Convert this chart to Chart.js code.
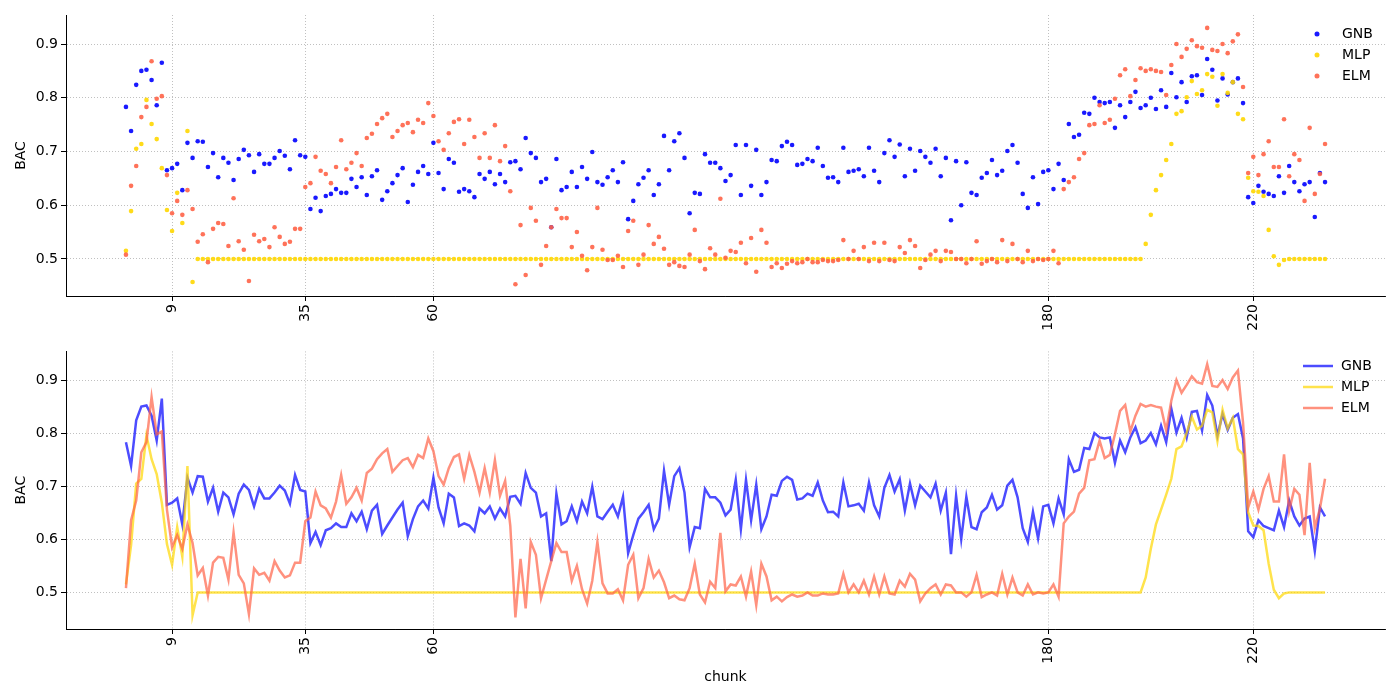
<!DOCTYPE html>
<html>
<head>
<meta charset="utf-8">
<title>BAC per chunk</title>
<script src="https://cdn.jsdelivr.net/npm/chart.js@4.4.0/dist/chart.umd.min.js"></script>
<style>
  body { margin: 0; background: #fff; }
  #wrap { position: relative; width: 1400px; height: 700px; }
  canvas { position: absolute; left: 0; }
  #scatterChart { top: 0; }
  #lineChart { top: 340px; }
</style>
</head>
<body>
<div id="wrap">
  <canvas id="scatterChart" width="1400" height="340"></canvas>
  <canvas id="lineChart" width="1400" height="360"></canvas>
</div>
<script>
// -------- DATA -------- //

let gnb = [
    0.783, 0.738, 0.824, 0.850, 0.852, 0.833, 0.786, 0.865, 0.665, 0.669,
    0.677, 0.628, 0.716, 0.688, 0.719, 0.718, 0.671, 0.697, 0.652, 0.688,
    0.679, 0.647, 0.686, 0.703, 0.693, 0.662, 0.695, 0.677, 0.677, 0.688,
    0.701, 0.692, 0.667, 0.721, 0.693, 0.690, 0.593, 0.614, 0.589, 0.617,
    0.621, 0.630, 0.623, 0.623, 0.649, 0.634, 0.652, 0.619, 0.654, 0.665,
    0.610, 0.626, 0.641, 0.656, 0.669, 0.606, 0.638, 0.662, 0.673, 0.658,
    0.716, 0.660, 0.630, 0.686, 0.679, 0.625, 0.630, 0.626, 0.615, 0.658,
    0.649, 0.662, 0.639, 0.658, 0.643, 0.680, 0.682, 0.667, 0.725, 0.697,
    0.688, 0.643, 0.649, 0.559, 0.686, 0.628, 0.634, 0.662, 0.634, 0.671,
    0.649, 0.699, 0.643, 0.638, 0.652, 0.665, 0.643, 0.680, 0.574, 0.608,
    0.639, 0.651, 0.665, 0.619, 0.639, 0.729, 0.665, 0.719, 0.734, 0.688,
    0.585, 0.623, 0.621, 0.695, 0.679, 0.679, 0.669, 0.645, 0.656, 0.712,
    0.619, 0.712, 0.636, 0.703, 0.619, 0.643, 0.684, 0.682, 0.710, 0.718,
    0.712, 0.675, 0.677, 0.686, 0.682, 0.707, 0.673, 0.651, 0.652, 0.643,
    0.707, 0.662, 0.664, 0.667, 0.654, 0.707, 0.664, 0.643, 0.697, 0.721,
    0.690, 0.713, 0.654, 0.705, 0.664, 0.701, 0.690, 0.679, 0.705, 0.654,
    0.688, 0.572, 0.682, 0.600, 0.680, 0.623, 0.619, 0.651, 0.660, 0.684,
    0.656, 0.664, 0.701, 0.712, 0.679, 0.621, 0.595, 0.652, 0.602, 0.662,
    0.665, 0.630, 0.677, 0.647, 0.751, 0.727, 0.731, 0.772, 0.770, 0.800,
    0.792, 0.790, 0.792, 0.744, 0.786, 0.764, 0.792, 0.811, 0.781, 0.786,
    0.800, 0.779, 0.814, 0.783, 0.846, 0.801, 0.829, 0.792, 0.840, 0.842,
    0.805, 0.872, 0.852, 0.795, 0.836, 0.806, 0.829, 0.836, 0.790, 0.615,
    0.604, 0.636, 0.625, 0.621, 0.617, 0.654, 0.623, 0.673, 0.643, 0.626,
    0.639, 0.643, 0.578, 0.660, 0.643
];

let mlp = [
    0.515, 0.589, 0.705, 0.714, 0.796, 0.751, 0.723, 0.669, 0.591, 0.552,
    0.623, 0.567, 0.738, 0.457, 0.5, 0.5, 0.5, 0.5, 0.5, 0.5,
    0.5, 0.5, 0.5, 0.5, 0.5, 0.5, 0.5, 0.5, 0.5, 0.5,
    0.5, 0.5, 0.5, 0.5, 0.5, 0.5, 0.5, 0.5, 0.5, 0.5,
    0.5, 0.5, 0.5, 0.5, 0.5, 0.5, 0.5, 0.5, 0.5, 0.5,
    0.5, 0.5, 0.5, 0.5, 0.5, 0.5, 0.5, 0.5, 0.5, 0.5,
    0.5, 0.5, 0.5, 0.5, 0.5, 0.5, 0.5, 0.5, 0.5, 0.5,
    0.5, 0.5, 0.5, 0.5, 0.5, 0.5, 0.5, 0.5, 0.5, 0.5,
    0.5, 0.5, 0.5, 0.5, 0.5, 0.5, 0.5, 0.5, 0.5, 0.5,
    0.5, 0.5, 0.5, 0.5, 0.5, 0.5, 0.5, 0.5, 0.5, 0.5,
    0.5, 0.5, 0.5, 0.5, 0.5, 0.5, 0.5, 0.5, 0.5, 0.5,
    0.5, 0.5, 0.5, 0.5, 0.5, 0.5, 0.5, 0.5, 0.5, 0.5,
    0.5, 0.5, 0.5, 0.5, 0.5, 0.5, 0.5, 0.5, 0.5, 0.5,
    0.5, 0.5, 0.5, 0.5, 0.5, 0.5, 0.5, 0.5, 0.5, 0.5,
    0.5, 0.5, 0.5, 0.5, 0.5, 0.5, 0.5, 0.5, 0.5, 0.5,
    0.5, 0.5, 0.5, 0.5, 0.5, 0.5, 0.5, 0.5, 0.5, 0.5,
    0.5, 0.5, 0.5, 0.5, 0.5, 0.5, 0.5, 0.5, 0.5, 0.5,
    0.5, 0.5, 0.5, 0.5, 0.5, 0.5, 0.5, 0.5, 0.5, 0.5,
    0.5, 0.5, 0.5, 0.5, 0.5, 0.5, 0.5, 0.5, 0.5, 0.5,
    0.5, 0.5, 0.5, 0.5, 0.5, 0.5, 0.5, 0.5, 0.5, 0.528,
    0.582, 0.628, 0.656, 0.684, 0.714, 0.770, 0.775, 0.801, 0.831, 0.807,
    0.814, 0.844, 0.839, 0.785, 0.844, 0.809, 0.829, 0.770, 0.760, 0.651,
    0.626, 0.625, 0.617, 0.554, 0.505, 0.489, 0.498, 0.5, 0.5, 0.5,
    0.5, 0.5, 0.5, 0.5, 0.5
];

let elm = [
    0.508, 0.636, 0.673, 0.764, 0.783, 0.868, 0.798, 0.803, 0.656, 0.585,
    0.608, 0.582, 0.628, 0.593, 0.532, 0.546, 0.494, 0.556, 0.567, 0.565,
    0.524, 0.613, 0.533, 0.517, 0.459, 0.545, 0.533, 0.537, 0.522, 0.559,
    0.541, 0.528, 0.532, 0.556, 0.556, 0.634, 0.641, 0.690, 0.664, 0.658,
    0.641, 0.671, 0.721, 0.667, 0.679, 0.697, 0.673, 0.725, 0.733, 0.751,
    0.762, 0.770, 0.727, 0.738, 0.749, 0.753, 0.736, 0.759, 0.753, 0.790,
    0.766, 0.719, 0.703, 0.734, 0.755, 0.760, 0.714, 0.759, 0.727, 0.688,
    0.734, 0.688, 0.749, 0.682, 0.710, 0.626, 0.453, 0.563, 0.470, 0.595,
    0.571, 0.489, 0.524, 0.559, 0.593, 0.576, 0.576, 0.522, 0.550, 0.506,
    0.479, 0.522, 0.595, 0.517, 0.498, 0.498, 0.506, 0.485, 0.552, 0.571,
    0.489, 0.508, 0.563, 0.528, 0.541, 0.519, 0.489, 0.494, 0.487, 0.485,
    0.508, 0.554, 0.496, 0.481, 0.520, 0.508, 0.612, 0.502, 0.515, 0.513,
    0.530, 0.492, 0.539, 0.476, 0.554, 0.530, 0.485, 0.492, 0.483, 0.491,
    0.496, 0.492, 0.494, 0.500, 0.494, 0.494, 0.498, 0.496, 0.496, 0.498,
    0.535, 0.500, 0.515, 0.500, 0.522, 0.496, 0.530, 0.496, 0.530, 0.498,
    0.496, 0.522, 0.511, 0.535, 0.524, 0.483, 0.498, 0.508, 0.515, 0.496,
    0.515, 0.513, 0.500, 0.500, 0.492, 0.500, 0.533, 0.491, 0.496, 0.500,
    0.494, 0.535, 0.496, 0.528, 0.500, 0.494, 0.515, 0.496, 0.500, 0.498,
    0.500, 0.515, 0.492, 0.630, 0.643, 0.652, 0.686, 0.697, 0.749, 0.751,
    0.786, 0.753, 0.759, 0.798, 0.842, 0.853, 0.803, 0.833, 0.855, 0.850,
    0.853, 0.850, 0.848, 0.805, 0.861, 0.900, 0.876, 0.891, 0.907, 0.896,
    0.893, 0.930, 0.889, 0.887, 0.900, 0.883, 0.905, 0.918, 0.820, 0.660,
    0.690, 0.656, 0.695, 0.719, 0.671, 0.671, 0.760, 0.654, 0.695, 0.684,
    0.608, 0.744, 0.621, 0.658, 0.714
];

let chunks = Array.from({ length: gnb.length }, (_, i) => i);
let xTicks = [9, 35, 60, 180, 220];
let yTicks = [0.5, 0.6, 0.7, 0.8, 0.9];
let seriesNames = ['GNB', 'MLP', 'ELM'];

let font = { family: 'DejaVu Sans', size: 14 };


// -------- HELPERS -------- //

function points(values) {
    return values.map((v, i) => ({ x: chunks[i], y: v }));
}

function makeScales(xHeight, xTitle) {
    return {
        x: {
            type: 'linear',
            min: -11.7,
            max: 245.7,
            afterBuildTicks: axis => { axis.ticks = xTicks.map(v => ({ value: v })); },
            afterFit: axis => { axis.height = xHeight; },
            ticks: { autoSkip: false, minRotation: 90, maxRotation: 90, padding: 3, color: '#000', font: font },
            grid: { color: '#b0b0b0', lineWidth: 0.8, tickLength: 5, tickColor: '#000', tickWidth: 1 },
            border: { display: true, color: '#000', width: 1, dash: [1, 2] },
            title: { display: xTitle, text: 'chunk', color: '#000', font: font, padding: { top: 0, bottom: 14.5 } }
        },
        y: {
            min: 0.431,
            max: 0.954,
            afterBuildTicks: axis => { axis.ticks = yTicks.map(v => ({ value: v })); },
            afterFit: axis => { axis.width = 66; },
            ticks: { padding: 3, color: '#000', font: font, callback: v => v.toFixed(1) },
            grid: { color: '#b0b0b0', lineWidth: 0.8, tickLength: 5, tickColor: '#000', tickWidth: 1 },
            border: { display: true, color: '#000', width: 1, dash: [1, 2] },
            title: { display: true, text: 'BAC', color: '#000', font: font, padding: { top: 12.5, bottom: 0 } }
        }
    };
}

let cornerLegend = {
    id: 'cornerLegend',
    afterDraw(chart, args, opts) {
        let ctx = chart.ctx;
        ctx.save();
        ctx.font = '14px "DejaVu Sans"';
        ctx.textBaseline = 'middle';
        chart.data.datasets.forEach((ds, k) => {
            let y = opts.top + k * 21;
            if (opts.kind === 'dot') {
                ctx.fillStyle = ds.pointBackgroundColor;
                ctx.beginPath();
                ctx.arc(opts.left, y, 2.5, 0, Math.PI * 2);
                ctx.fill();
            } else {
                ctx.strokeStyle = ds.borderColor;
                ctx.lineWidth = 2.5;
                ctx.beginPath();
                ctx.moveTo(opts.left, y);
                ctx.lineTo(opts.left + 30, y);
                ctx.stroke();
            }
            ctx.fillStyle = '#000';
            ctx.fillText(ds.label, opts.textX, y);
        });
        ctx.restore();
    }
};


// -------- OBEN: PUNKTE -------- //

let dotColors = ['rgba(0, 0, 255, 0.9)', 'rgba(255, 215, 0, 0.9)', 'rgba(255, 99, 71, 0.9)'];
let lineColors = ['rgba(0, 0, 255, 0.7)', 'rgba(255, 215, 0, 0.7)', 'rgba(255, 99, 71, 0.7)'];
let allSeries = [gnb, mlp, elm];

new Chart(document.getElementById('scatterChart'), {
    type: 'scatter',
    data: {
        datasets: allSeries.map((values, k) => ({
            label: seriesNames[k],
            data: points(values),
            order: 2 - k,
            pointRadius: 2.3,
            pointBorderWidth: 0,
            pointBackgroundColor: dotColors[k],
            showLine: false
        }))
    },
    options: {
        responsive: false,
        animation: false,
        devicePixelRatio: 1,
        layout: { padding: { top: 15, right: 15, left: 0, bottom: 0 } },
        scales: makeScales(44, false),
        plugins: {
            legend: { display: false },
            tooltip: { enabled: false },
            cornerLegend: { kind: 'dot', left: 1317, top: 34, textX: 1342 }
        }
    },
    plugins: [cornerLegend]
});


// -------- UNTEN: LINIEN -------- //

new Chart(document.getElementById('lineChart'), {
    type: 'line',
    data: {
        datasets: allSeries.map((values, k) => ({
            label: seriesNames[k],
            data: points(values),
            order: 2 - k,
            borderColor: lineColors[k],
            borderWidth: 2.5,
            pointRadius: 0,
            tension: 0,
            fill: false
        }))
    },
    options: {
        responsive: false,
        animation: false,
        devicePixelRatio: 1,
        layout: { padding: { top: 8, right: 15, left: 0, bottom: 0 } },
        scales: makeScales(71, true),
        plugins: {
            legend: { display: false },
            tooltip: { enabled: false },
            cornerLegend: { kind: 'line', left: 1303, top: 26, textX: 1341 }
        }
    },
    plugins: [cornerLegend]
});
</script>
</body>
</html>
